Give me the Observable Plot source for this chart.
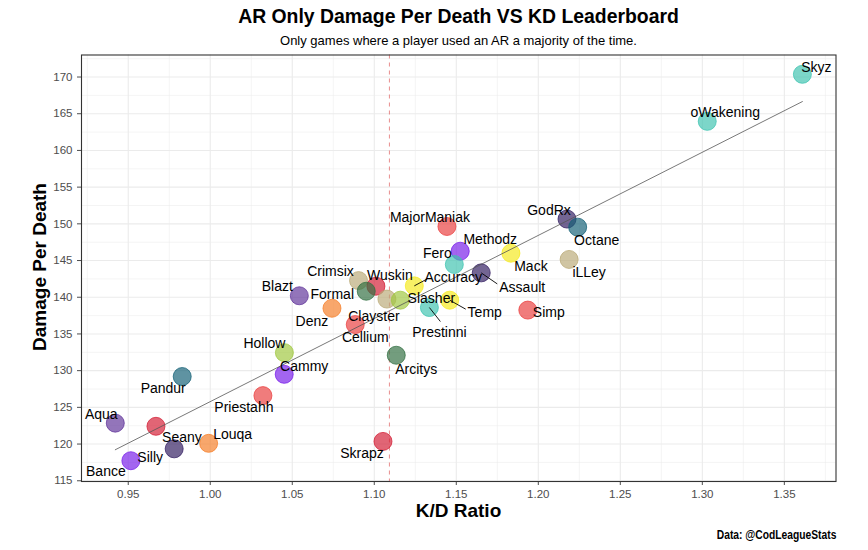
<!DOCTYPE html>
<html>
<head>
<meta charset="utf-8">
<script src="https://cdn.jsdelivr.net/npm/d3@7"></script>
<script src="https://cdn.jsdelivr.net/npm/@observablehq/plot@0.6"></script>
<style>
  body { margin: 0; background: #fff; font-family: "Liberation Sans", Arial, sans-serif; }
  #wrap { position: relative; width: 868px; height: 550px; overflow: hidden; }
  #title { position: absolute; left: 81px; width: 755px; top: 4px; line-height: 24px; text-align: center; font-weight: bold; font-size: 19.4px; color: #000; }
  #subtitle { position: absolute; left: 81px; width: 755px; top: 33px; line-height: 16px; text-align: center; font-size: 13px; color: #000; }
  #chart { position: absolute; left: 0; top: 48px; }
  #xtitle { position: absolute; left: 81px; width: 755px; top: 499px; line-height: 24px; text-align: center; font-weight: bold; font-size: 19px; }
  #ytitle { position: absolute; left: 40px; top: 267px; transform: translate(-50%, -50%) rotate(-90deg); white-space: nowrap; font-weight: bold; font-size: 19px; }
  #caption { position: absolute; right: 32px; top: 526px; line-height: 18px; font-weight: bold; font-size: 13px; transform: scaleX(0.79); transform-origin: right center; white-space: nowrap; }
</style>
</head>
<body>
<div id="wrap">
  <div id="title">AR Only Damage Per Death VS KD Leaderboard</div>
  <div id="subtitle">Only games where a player used an AR a majority of the time.</div>
  <div id="chart"></div>
  <div id="ytitle">Damage Per Death</div>
  <div id="xtitle">K/D Ratio</div>
  <div id="caption">Data: @CodLeagueStats</div>
</div>
<script>
// ---- data ----
const players = ["Skyz","oWakening","GodRx","Octane","MajorManiak","Methodz","Mack","iLLey","Fero","Assault","Crimsix","Wuskin","Accuracy","Formal","Clayster","Slasher","Temp","Prestinni","Simp","Cellium","Denz","Blazt","Hollow","Cammy","Arcitys","Pandur","Priestahh","Aqua","Seany","Silly","Louqa","Bance","Skrapz"];
const kd = [1.361,1.303,1.2175,1.224,1.1443,1.1524,1.1833,1.2188,1.1488,1.1652,1.0904,1.101,1.1244,1.0951,1.1077,1.1159,1.146,1.1336,1.1936,1.0884,1.0742,1.0543,1.0452,1.0451,1.1134,0.9829,1.0321,0.9421,0.9669,0.978,0.999,0.9516,1.1053];
const dpd = [170.37,163.96,150.65,149.55,149.64,146.27,146.0,145.15,144.46,143.32,142.27,141.5,141.55,140.82,139.75,139.6,139.6,138.6,138.25,136.28,138.5,140.2,132.45,129.5,132.1,129.2,126.6,122.85,122.42,119.35,120.1,117.73,120.36];
const team = ["Florida","Florida","Legion","Surge","FaZe","Ultra","Subliners","Empire","Florida","Legion","Empire","Ravens","Subliners","Huntsmen","Empire","OpTic","Subliners","Florida","FaZe","FaZe","Rokkr","Guerrillas","OpTic","Ultra","Huntsmen","Surge","FaZe","Guerrillas","Ravens","Legion","Rokkr","Ultra","Ravens"];
const teams = ["Florida","Legion","Surge","FaZe","Ultra","Subliners","Empire","Ravens","Huntsmen","OpTic","Rokkr","Guerrillas"];
const xTicks = [0.95,1.00,1.05,1.10,1.15,1.20,1.25,1.30,1.35];
const yTicks = [115,120,125,130,135,140,145,150,155,160,165,170];

// ---- styles / layout ----
const teamColors = ["#3ec3b0","#311c60","#136076","#e93e3e","#771ce9","#f5e91c","#baa977","#d31c33","#316f41","#9fc73e","#f57d27","#60339a"];
const labelNudge = {
  Skyz:[14,-7], oWakening:[18,-9], GodRx:[-18,-9], Octane:[19,13], MajorManiak:[-17,-9],
  Methodz:[30,-12], Mack:[20,13], iLLey:[20,13], Fero:[-17,-11], Assault:[41,15],
  Crimsix:[-28,-9], Wuskin:[14,-11], Accuracy:[39,-8], Formal:[-34,3], Clayster:[-13,17],
  Slasher:[31,-2], Temp:[35,12], Prestinni:[10,25], Simp:[21,2], Cellium:[10,13],
  Denz:[-20,13], Blazt:[-22,-9], Hollow:[-20,-9], Cammy:[20,-8], Arcitys:[20,14],
  Pandur:[-19,12], Priestahh:[-19,12], Aqua:[-14,-9], Seany:[26,11], Silly:[-24,9],
  Louqa:[24,-9], Bance:[-25,11], Skrapz:[-21,12]
};
const segmentEnd = { Assault:[16,11], Accuracy:[13,-7], Temp:[16,9], Prestinni:[11,14] };

const W = 868, H = 477;
const mL = 81, mR = 32.5, mT = 6.5, mB = 44;
const xDomain = [0.9215, 1.3815];
const yDomain = [114.9, 173.0];

const rows = players.map((p, i) => ({player: p, kd: kd[i], dpd: dpd[i], team: team[i]}));
const meanKD = d3.mean(kd);

const sx = Plot.scale({x: {type: "linear", domain: xDomain, range: [mL, W - mR]}});
const sy = Plot.scale({y: {type: "linear", domain: yDomain, range: [H - mB, mT]}});
const segs = rows.filter(d => segmentEnd[d.player]).map(d => {
  const [dx, dy] = segmentEnd[d.player];
  return {...d, kd2: sx.invert(sx.apply(d.kd) + dx), dpd2: sy.invert(sy.apply(d.dpd) + dy)};
});

const xMinor = xTicks.map(t => t - 0.025).concat([xTicks[xTicks.length - 1] + 0.025]).filter(t => t > xDomain[0] && t < xDomain[1]);
const yMinor = yTicks.map(t => t - 2.5).concat([yTicks[yTicks.length - 1] + 2.5]).filter(t => t > yDomain[0] && t < yDomain[1]);

const labelMarks = rows.map(d => Plot.text([d], {
  x: "kd", y: "dpd", text: "player",
  dx: labelNudge[d.player][0], dy: labelNudge[d.player][1],
  fill: "#000", fontSize: 14, fontFamily: "Liberation Sans, Arial, sans-serif"
}));

const chart = Plot.plot({
  width: W, height: H,
  marginLeft: mL, marginRight: mR, marginTop: mT, marginBottom: mB,
  style: {fontFamily: "Liberation Sans, Arial, sans-serif", fontSize: "11.5px", color: "#4d4d4d", background: "#fff"},
  x: {domain: xDomain, ticks: xTicks, tickFormat: d3.format(".2f"), tickSize: 4, tickPadding: 4, label: null},
  y: {domain: yDomain, ticks: yTicks, tickFormat: d3.format("d"), tickSize: 4, tickPadding: 5, label: null},
  color: {domain: teams, range: teamColors},
  marks: [
    Plot.ruleX(xMinor, {stroke: "#ebebeb", strokeWidth: 0.55}),
    Plot.ruleY(yMinor, {stroke: "#ebebeb", strokeWidth: 0.55}),
    Plot.ruleX(xTicks, {stroke: "#ebebeb", strokeWidth: 1.1}),
    Plot.ruleY(yTicks, {stroke: "#ebebeb", strokeWidth: 1.1}),
    Plot.ruleX([meanKD], {stroke: "#e06666", strokeOpacity: 0.75, strokeWidth: 1, strokeDasharray: "4,4"}),
    Plot.dot(rows, {x: "kd", y: "dpd", r: 9, fill: "team", fillOpacity: 0.68, stroke: "team", strokeOpacity: 0.75, strokeWidth: 1}),
    Plot.linearRegressionY(rows, {x: "kd", y: "dpd", stroke: "#555", strokeWidth: 0.8, ci: 0}),
    Plot.link(segs, {x1: "kd", y1: "dpd", x2: "kd2", y2: "dpd2", stroke: "#000", strokeWidth: 0.9}),
    ...labelMarks,
    Plot.frame({stroke: "#333", strokeWidth: 1.1})
  ]
});
document.getElementById("chart").appendChild(chart);
</script>
</body>
</html>
